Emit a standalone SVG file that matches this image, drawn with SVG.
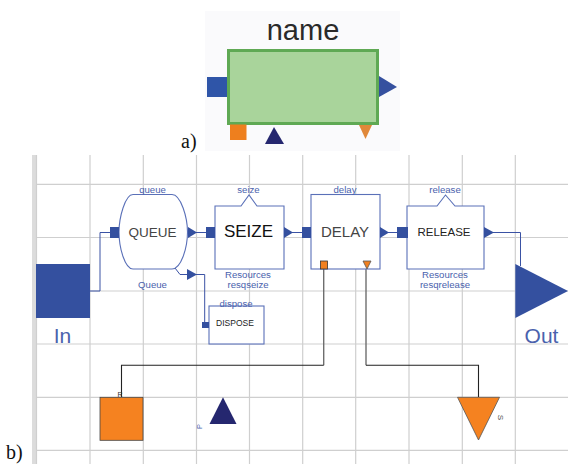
<svg xmlns="http://www.w3.org/2000/svg" width="568" height="464" viewBox="0 0 568 464">
<style>
.g{stroke:#cfcfcf;stroke-width:1.2;fill:none}
.w{stroke:#3a52a4;stroke-width:1;fill:none}
.box{stroke:#5a70b8;stroke-width:1.1;fill:#fff}
.b{fill:#34509f;stroke:none}
.k{stroke:#222;stroke-width:1.1;fill:none}
.kg{stroke:#6e6e6e;stroke-width:1.4;fill:none}
.s{font-family:"Liberation Sans",Arial,sans-serif;fill:#4a62ad;text-anchor:middle;font-size:9.6px}
.big{font-size:21px}
.t{font-family:"Liberation Sans",Arial,sans-serif;fill:#333;text-anchor:middle}
.r{font-family:"Liberation Serif","Times New Roman",serif;fill:#111;font-size:20px}
</style>
<rect width="568" height="464" fill="#fff"/>
<g id="panel-a">
<rect x="205" y="11" width="195" height="140" fill="#fafafc"/>
<text x="303" y="40" class="t" font-size="29" style="fill:#2a2a2a">name</text>
<rect x="228.500" y="50.500" width="149" height="73" fill="#a9d49b" stroke="#5fa954" stroke-width="3"/>
<rect x="207" y="77" width="20" height="20" fill="#2f55a8"/>
<polygon points="379,76 397,87 379,97" fill="#35509f"/>
<rect x="230" y="124.500" width="16.500" height="15.500" fill="#ee7f1e"/>
<polygon points="265,144 274,127 284,144" fill="#25276f"/>
<polygon points="359,125 372,125 365.500,139" fill="#e0883a"/>
<text x="181" y="148" class="r">a)</text>
</g>
<g id="grid">
<rect x="32" y="155" width="4" height="309" fill="#dcdcdc"/>
<path class="g" d="M36.500 155V464M90 155V464M143.300 155V464M196.500 155V464M249.500 155V464M302.700 155V464M355.700 155V464M409 155V464M462.300 155V464M515.300 155V464M36 184.300H568M36 237.500H568M36 291H568M36 344H568M36 397.300H568M36 450.300H568"/>
</g>
<g id="connectors">
<path class="w" d="M90 291H100V232.500H110"/>
<path class="w" d="M196 232.500H206"/>
<path class="w" d="M292 232.500H302"/>
<path class="w" d="M388 232.500H398"/>
<path class="w" d="M493 232.500H520.500V266"/>
<path class="w" d="M175 268L180 274.500H204.700V325"/>
<path class="kg" d="M323.700 269V365.300"/>
<path class="kg" d="M366 269V365.300"/>
<path class="k" d="M323.700 365.300H121.500V397"/>
<path class="k" d="M366 365.300H478.500V397"/>
</g>
<g id="In">
<rect x="36" y="264" width="54" height="54" class="b"/>
<text x="62.500" y="343" class="s big">In</text>
</g>
<g id="Out">
<polygon points="515.300,264 568,291 515.300,318" class="b"/>
<text x="541.500" y="343" class="s big">Out</text>
</g>
<g id="queue">
<path class="box" d="M133 194.500H172C181 194.500 187.500 218 187.500 232C187.500 248 181 269 172 269H133C125 269 119 248 119 232C119 218 125 194.500 133 194.500Z"/>
<rect x="110" y="227" width="9" height="11" class="b"/>
<polygon points="188,227 197,232.500 188,238" class="b"/>
<polygon points="187,269 197,274.500 187,280" class="b"/>
<text x="152.500" y="192.500" class="s">queue</text>
<text x="152.500" y="236.500" class="t" font-size="13.500" style="fill:#444">QUEUE</text>
<text x="152.500" y="287.500" class="s">Queue</text>
</g>
<g id="seize">
<path class="box" d="M215 206H241L249 195L257 206H284V269H215Z"/>
<rect x="206" y="227" width="9" height="11" class="b"/>
<polygon points="284,227 293,232.500 284,238" class="b"/>
<text x="248.500" y="192.500" class="s">seize</text>
<text x="248.500" y="237" class="t" font-size="17" style="fill:#111">SEIZE</text>
<text x="248" y="278" class="s">Resources</text>
<text x="248" y="287.500" class="s">resqseize</text>
</g>
<g id="dispose">
<rect x="209" y="306" width="55" height="38" class="box"/>
<rect x="202" y="322" width="7" height="6" class="b"/>
<text x="236" y="306.500" class="s">dispose</text>
<text x="235" y="326" class="t" font-size="8.500" style="fill:#222">DISPOSE</text>
</g>
<g id="delay">
<rect x="311" y="194.500" width="69" height="74.500" class="box"/>
<rect x="302" y="227" width="9" height="11" class="b"/>
<polygon points="380,227 389,232.500 380,238" class="b"/>
<rect x="320.500" y="261" width="7" height="8" fill="#f08020" stroke="#333" stroke-width="0.800"/>
<polygon points="363,261 371,261 367,269" fill="#f08020" stroke="#555" stroke-width="0.800"/>
<text x="345" y="192.500" class="s">delay</text>
<text x="345" y="236.500" class="t" font-size="15" style="fill:#444">DELAY</text>
</g>
<g id="release">
<path class="box" d="M407 206H437L445.500 195L455 206H484V269H407Z"/>
<rect x="397" y="227" width="11" height="11" class="b"/>
<polygon points="484,227 494,232.500 484,238" class="b"/>
<text x="445" y="192.500" class="s">release</text>
<text x="444" y="236" class="t" font-size="11.500" style="fill:#222">RELEASE</text>
<text x="445" y="278" class="s">Resources</text>
<text x="445" y="287.500" class="s">resqrelease</text>
</g>
<g id="R">
<rect x="100" y="397.300" width="43" height="43" fill="#f58220" stroke="#444" stroke-width="0.800"/>
<text x="120" y="397" class="t" font-size="7">R</text>
</g>
<g id="P">
<polygon points="223,397.300 236.500,424 209.500,424" fill="#25276f"/>
<text transform="translate(201.500,426.500) rotate(-90)" class="s" style="font-size:7.500px">P</text>
</g>
<g id="S">
<polygon points="457.500,397.300 499.500,397.300 478.500,440" fill="#f58220" stroke="#555" stroke-width="0.800"/>
<text transform="translate(498,417.500) rotate(90)" class="t" font-size="8" style="fill:#555">S</text>
</g>
<text x="6" y="459" class="r">b)</text>
</svg>
